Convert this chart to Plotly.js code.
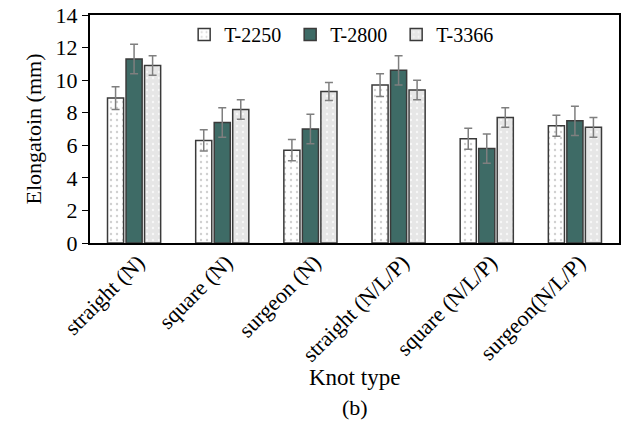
<!DOCTYPE html>
<html>
<head>
<meta charset="utf-8">
<script src="https://cdn.plot.ly/plotly-3.0.1.min.js"></script>
<style>html,body{margin:0;padding:0;background:#fff;}#chart{width:623px;height:422px;}</style>
</head>
<body>
<div id="chart"></div>
<script>
const categories = ["straight (N)", "square (N)", "surgeon (N)", "straight (N/L/P)", "square (N/L/P)", "surgeon(N/L/P)"];
const seriesNames = ["T-2250", "T-2800", "T-3366"];
const t2250 = [8.9, 6.3, 5.7, 9.7, 6.4, 7.2];
const t2800 = [11.3, 7.4, 7.0, 10.6, 5.8, 7.5];
const t3366 = [10.9, 8.2, 9.3, 9.4, 7.7, 7.1];
const t2250Err = [0.7, 0.65, 0.65, 0.7, 0.65, 0.65];
const t2800Err = [0.9, 0.9, 0.9, 0.9, 0.9, 0.9];
const t3366Err = [0.6, 0.6, 0.55, 0.6, 0.6, 0.6];
const xTitle = "Knot type";
const yTitle = "Elongatoin (mm)";
const panelLabel = "(b)";

const fills = ["#ffffff", "#3e6b66", "#e6e6e6"];
const patterns = [
  {shape: ".", fgcolor: "#d0d0d0", bgcolor: "#ffffff", size: 6, solidity: 0.12},
  {shape: ""},
  {shape: ".", fgcolor: "#f8f8f8", bgcolor: "#e6e6e6", size: 6, solidity: 0.12}
];
const values = [t2250, t2800, t3366];
const errs = [t2250Err, t2800Err, t3366Err];

const traces = seriesNames.map((name, i) => ({
  type: "bar",
  name: name,
  x: categories,
  y: values[i],
  marker: {color: fills[i], line: {color: "#3a3a3a", width: 1.5}, pattern: patterns[i]},
  error_y: {type: "data", array: errs[i], visible: true, color: "#7f7f7f", thickness: 1.5, width: 4}
}));

const serif = "Liberation Serif";
const layout = {
  width: 623, height: 422,
  margin: {l: 90, r: 4, t: 15, b: 179},
  paper_bgcolor: "#fff", plot_bgcolor: "#fff",
  font: {family: serif, color: "#000"},
  barmode: "group", bargap: 0.37, bargroupgap: 0.13,
  showlegend: true,
  legend: {orientation: "h", x: 0.178, xanchor: "left", y: 1.0, yanchor: "top",
           font: {family: serif, size: 20, color: "#000"}, bgcolor: "rgba(0,0,0,0)",
           itemwidth: 30, entrywidth: 61, entrywidthmode: "pixels", tracegroupgap: 0},
  xaxis: {
    tickangle: -45, tickfont: {family: serif, size: 22, color: "#000"},
    showline: true, linecolor: "#000", linewidth: 2, mirror: true,
    ticks: "", showgrid: false, ticklabelstandoff: -4, ticklabelshift: 4
  },
  yaxis: {
    range: [0, 14], dtick: 2, tickfont: {family: serif, size: 22, color: "#000"},
    showline: true, linecolor: "#000", linewidth: 2, mirror: true,
    ticks: "outside", ticklen: 6, tickcolor: "#000", showgrid: false, zeroline: false,
    title: {text: yTitle, font: {family: serif, size: 22, color: "#000"}, standoff: 8}
  },
  annotations: [
    {text: xTitle, xref: "paper", yref: "paper", x: 0.5, y: -0.588, xanchor: "center", yanchor: "middle",
     showarrow: false, font: {family: serif, size: 23, color: "#000"}},
    {text: panelLabel, xref: "paper", yref: "paper", x: 0.5, y: -0.72, xanchor: "center", yanchor: "middle",
     showarrow: false, font: {family: serif, size: 22, color: "#000"}}
  ]
};
Plotly.newPlot("chart", traces, layout, {displayModeBar: false, staticPlot: true});
</script>
</body>
</html>
